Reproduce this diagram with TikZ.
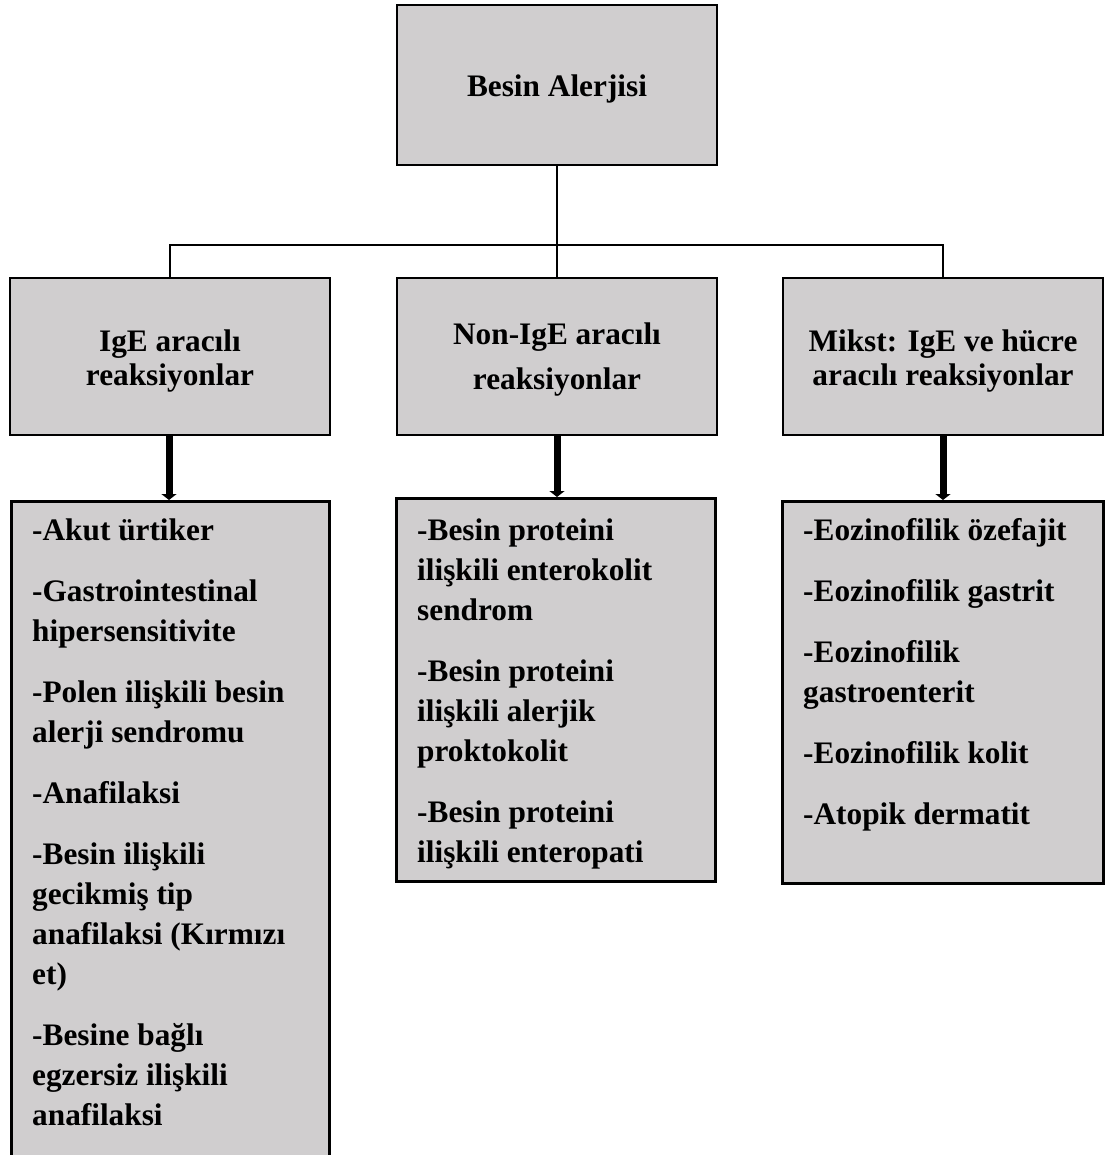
\documentclass[tikz,border=0pt]{standalone}
\usepackage{fontspec}
\setmainfont{Liberation Serif}
\usetikzlibrary{arrows.meta}
\definecolor{boxgray}{RGB}{208,206,207}
\begin{document}
\begin{tikzpicture}[x=1pt,y=-1pt,
  box/.style={draw, line width=2.6pt, fill=boxgray, inner sep=0pt},
  hdr/.style={box, minimum width=320pt, minimum height=157pt},
  hdrtxt/.style={inner sep=0pt, align=center,
    font=\fontsize{31.3}{34}\selectfont\bfseries},
  listtxt/.style={anchor=north west, inner sep=0pt, align=left,
    font=\fontsize{31.3}{40}\selectfont\bfseries},
  conn/.style={line width=2pt},
  bigarrow/.style={line width=7pt, -{Triangle[width=15pt,length=6pt]}}
]
\useasboundingbox (0,0) rectangle (1106,1155);
\clip (0,0) rectangle (1106,1155);

% top box
\node[hdr, minimum height=160pt] (top) at (557,85) {};
\node[hdrtxt] (topt) at ([yshift=-4pt]top.center) {Besin Alerjisi};

% header boxes
\node[hdr] (h1) at (170,356.5) {};
\node[hdr] (h2) at (557,356.5) {};
\node[hdr] (h3) at (943,356.5) {};
\node[hdrtxt] (h1t) at ([yshift=-5pt]h1.center) {IgE aracılı\\reaksiyonlar};
\node[hdrtxt] (h2t) at ([yshift=-3pt]h2.center) {Non-IgE aracılı\\[11pt]reaksiyonlar};
\node[hdrtxt] (h3t) at ([yshift=-5pt]h3.center) {Mikst: IgE ve hücre\\aracılı reaksiyonlar};

% connectors
\coordinate (bus) at (557,245);
\draw[conn] (top.south) -- (h2.north);
\draw[conn] (h1.north) -- (h1.north |- bus) -- (h3.north |- bus) -- (h3.north);

% lower boxes
\node[box, anchor=north west, minimum width=318pt, minimum height=680pt] (l1) at (10,500) {};
\node[box, anchor=north west, minimum width=319pt, minimum height=383pt] (l2) at (395,497) {};
\node[box, anchor=north west, minimum width=321pt, minimum height=382pt] (l3) at (781,500) {};

% arrows
\draw[bigarrow] (h1.south -| 169,0) -- (l1.north -| 169,0);
\draw[bigarrow] (h2.south) -- (h2.south |- l2.north);
\draw[bigarrow] (h3.south) -- (h3.south |- l3.north);

% list texts
\node[listtxt] (t1) at (32,519) {-Akut ürtiker\\[21pt]
-Gastrointestinal\\hipersensitivite\\[21pt]
-Polen ilişkili besin\\alerji sendromu\\[21pt]
-Anafilaksi\\[21pt]
-Besin ilişkili\\gecikmiş tip\\anafilaksi (Kırmızı\\et)\\[21pt]
-Besine bağlı\\egzersiz ilişkili\\anafilaksi};

\node[listtxt] (t2) at (417,519) {-Besin proteini\\ilişkili enterokolit\\sendrom\\[21pt]
-Besin proteini\\ilişkili alerjik\\proktokolit\\[21pt]
-Besin proteini\\ilişkili enteropati};

\node[listtxt] (t3) at (803,518) {-Eozinofilik özefajit\\[21pt]
-Eozinofilik gastrit\\[21pt]
-Eozinofilik\\gastroenterit\\[21pt]
-Eozinofilik kolit\\[21pt]
-Atopik dermatit};
\end{tikzpicture}
\end{document}
